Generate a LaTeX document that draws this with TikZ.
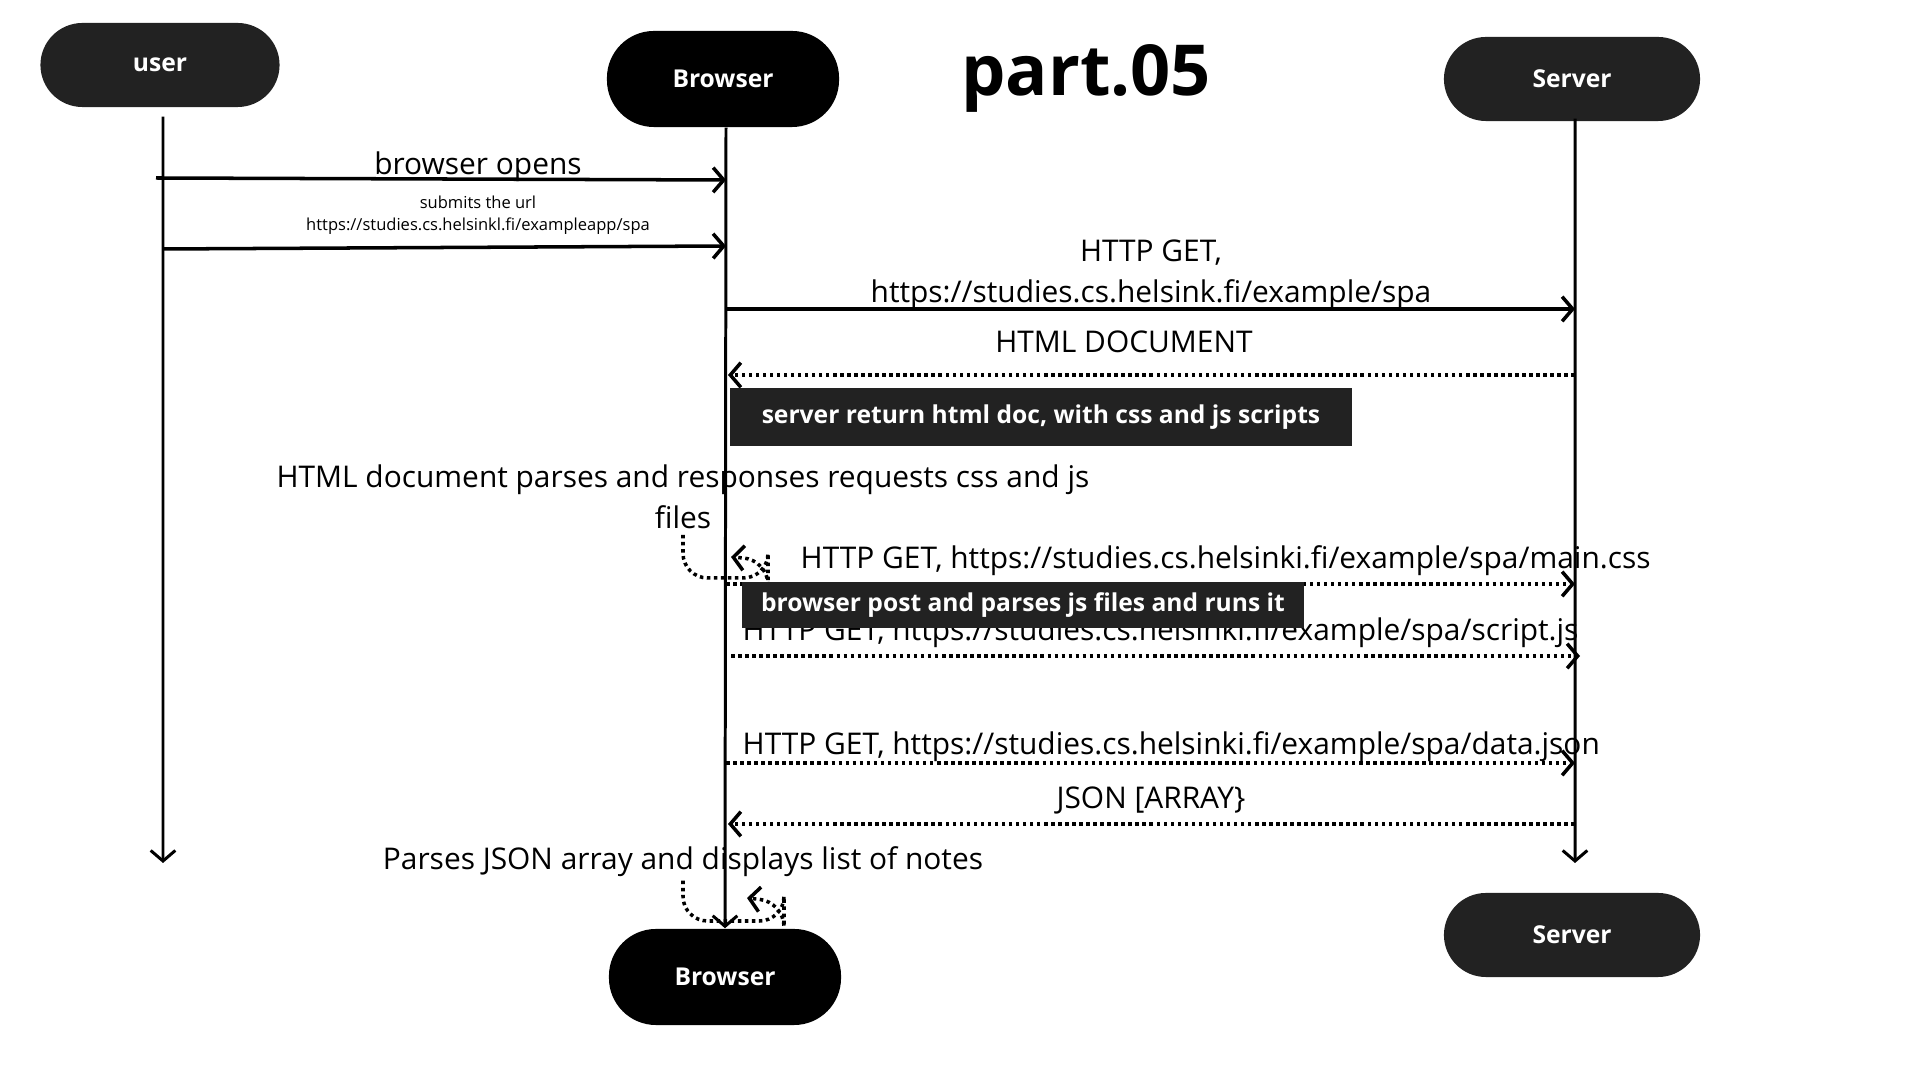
\documentclass[tikz,border=0pt]{standalone}
\usepackage{fontspec}
\setmainfont{Open Sans}
\usetikzlibrary{arrows.meta}
\definecolor{ink}{HTML}{222222}

\begin{document}
\begin{tikzpicture}[x=0.01cm,y=-0.01cm,
actor/.style={rectangle, rounded corners=0.42cm, fill=ink, text=white, font=\fontsize{7}{8}\selectfont\bfseries, minimum width=2.39cm, minimum height=0.84cm},
server/.style={actor, minimum width=2.56cm},
browser/.style={actor, fill=black, rounded corners=0.47cm, minimum width=2.32cm, minimum height=0.96cm},
note/.style={rectangle, fill=ink, text=white, font=\fontsize{7}{8}\selectfont\bfseries, inner sep=0pt},
msg/.style={font=\fontsize{8.5}{11.8}\selectfont, inner sep=0pt, align=center},
small/.style={font=\fontsize{4.7}{6.3}\selectfont, inner sep=0pt, align=center},
life/.style={line width=0.85pt},
call/.style={-{Straight Barb[length=3pt,width=7pt]}, line width=1pt},
reply/.style={call, dash pattern=on 1pt off 1pt}
]
  \useasboundingbox (0,0) rectangle (1920,1080);

  % actors
  \node[actor] (user) at (160,65) {user};
  \node[browser] (btop) at (723,79) {Browser};
  \node[server] (stop) at (1572,79) {Server};
  \node[browser] (bbot) at (725,977) {Browser};
  \node[server] (sbot) at (1572,935) {Server};
  \node[font=\fontsize{20}{24}\selectfont\bfseries] (title) at (1086,78) {part.05};

  % labels
  \node[msg] (opens) at (478,167) {browser opens};
  \node[small] (submit) at (478,215) {submits the url\\https://studies.cs.helsinkl.fi/exampleapp/spa};
  \node[msg] (get) at (1151,275) {HTTP GET,\\https://studies.cs.helsink.fi/example/spa};
  \node[msg] (doc) at (1124,342) {HTML DOCUMENT};
  \node[msg] (parse) at (683,497) {HTML document parses and responses requests css and js\\files};
  \node[msg, anchor=west] (css) at (800,561) {HTTP GET, https://studies.cs.helsinki.fi/example/spa/main.css};
  \node[msg, anchor=west] (script) at (742,633) {HTTP GET, https://studies.cs.helsinki.fi/example/spa/script.js};
  \node[msg, anchor=west] (data) at (742,747) {HTTP GET, https://studies.cs.helsinki.fi/example/spa/data.json};
  \node[msg] (array) at (1151,800) {JSON [ARRAY\}};
  \node[msg] (notes) at (683,862) {Parses JSON array and displays list of notes};

  % lifelines
  \coordinate (uend) at (163,863);
  \coordinate (send) at (1575,863);
  \draw[life, -{Straight Barb[length=3pt,width=7pt]}] ([xshift=0.03cm,yshift=-0.09cm]user.south) -- (uend);
  \draw[life, -{Straight Barb[length=3pt,width=7pt]}] ([xshift=0.03cm,yshift=0.03cm]stop.south) -- (send);
  \draw[life, -{Straight Barb[length=3pt,width=7pt]}] ([xshift=0.03cm]btop.south) -- (bbot.north);

  % messages
  \coordinate (u1) at (156,178);  \coordinate (b1) at (726,180);
  \coordinate (u2) at (163,249);  \coordinate (b2) at (726,246);
  \coordinate (b3) at (726,309);  \coordinate (s3) at (1575,309);
  \coordinate (s4) at (1575,375); \coordinate (b4) at (728,375);
  \coordinate (b5) at (726,584);  \coordinate (s5) at (1575,584);
  \coordinate (b6) at (731,656);  \coordinate (s6) at (1580,656);
  \coordinate (b7) at (726,763);  \coordinate (s7) at (1575,763);
  \coordinate (s8) at (1575,824); \coordinate (b8) at (728,824);
  \coordinate (l1) at (731,557);  \coordinate (l2) at (747,898);

  \draw[call] (u1) -- (b1);
  \draw[call] (u2) -- (b2);
  \draw[call] (b3) -- (s3);
  \draw[reply] (s4) -- (b4);
  \draw[reply] (b5) -- (s5);
  \draw[reply] (b6) -- (s6);
  \draw[reply] (b7) -- (s7);
  \draw[reply] (s8) -- (b8);

  % self calls
  \draw[reply, rounded corners=7pt] ([yshift=-0.05cm]parse.south) -- (683,578) -- (768,578) -- (768,560) -- (l1);
  \draw[reply, rounded corners=7pt] ([yshift=-0.03cm]notes.south) -- (683,921) -- (784,921) -- (784,902) -- (l2);

  % notes
  \node[note, minimum width=6.21cm, minimum height=0.58cm] (ret) at (1041,417) {server return html doc, with css and js scripts};
  \node[note, minimum width=5.62cm, minimum height=0.45cm] (runs) at (1023,605) {browser post and parses js files and runs it};
\end{tikzpicture}
\end{document}
